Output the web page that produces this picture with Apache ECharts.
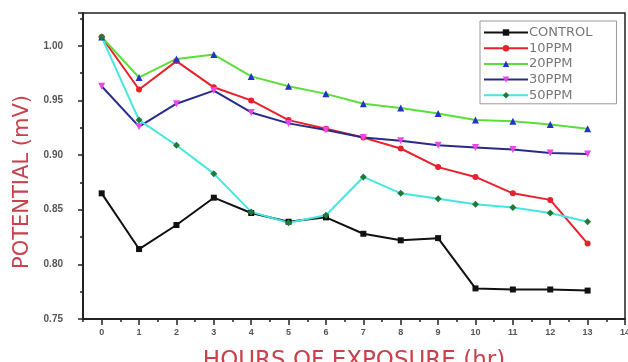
<!DOCTYPE html>
<html>
<head>
<meta charset="utf-8">
<script src="https://cdn.jsdelivr.net/npm/echarts@6/dist/echarts.min.js"></script>
<style>html,body{margin:0;padding:0;background:#fff;}#c{width:628px;height:362px;}</style>
</head>
<body>
<div id="c"></div>
<script>
const hours = [0,1,2,3,4,5,6,7,8,9,10,11,12,13];
const control = [0.865,0.814,0.836,0.861,0.847,0.839,0.843,0.828,0.822,0.824,0.778,0.777,0.777,0.776];
const ppm10 = [1.008,0.960,0.986,0.962,0.950,0.932,0.924,0.916,0.906,0.889,0.880,0.865,0.859,0.819];
const ppm20 = [1.008,0.971,0.988,0.992,0.972,0.963,0.956,0.947,0.943,0.938,0.932,0.931,0.928,0.924];
const ppm30 = [0.963,0.926,0.947,0.959,0.939,0.929,0.923,0.916,0.913,0.909,0.907,0.905,0.902,0.901];
const ppm50 = [1.008,0.932,0.909,0.883,0.848,0.838,0.845,0.880,0.865,0.860,0.855,0.852,0.847,0.839];
const xTickLabels = [0,1,2,3,4,5,6,7,8,9,10,11,12,13,14];
const yTickLabels = [0.75,0.80,0.85,0.90,0.95,1.00];

const pairs = v => hours.map((h,i)=>[h,v[i]]);
const chart = echarts.init(document.getElementById('c'));
const mk = (name, data, lineColor, symbol, symColor, size) => ({
  name, type:'line', data: pairs(data), symbol, symbolSize: size,
  lineStyle:{color:lineColor,width:2}, itemStyle:{color:symColor, borderWidth:0},
  emphasis:{disabled:true}, animation:false
});
chart.setOption({
  animation:false,
  grid:{left:83,top:13,right:3,bottom:43,outerBoundsMode:'none',containLabel:false,show:true,borderColor:'#222',borderWidth:1.5,backgroundColor:'#fff'},
  legend:{
    orient:'vertical', left:480, top:21, itemWidth:44, itemHeight:8, itemGap:0.7,
    borderColor:'#999', borderWidth:1, borderRadius:0, padding:[4,24,1,3], backgroundColor:'#fff',
    textStyle:{color:'#777', fontSize:13, lineHeight:15, fontFamily:'DejaVu Sans', padding:[0,0,0,-4]},
    data:['CONTROL','10PPM','20PPM','30PPM','50PPM']
  },
  xAxis:[{
    type:'value', min:-0.5, max:14, interval:0.5,
    axisLine:{onZero:false,lineStyle:{color:'#222',width:2}},
    axisTick:{length:3,lineStyle:{color:'#222',width:1.5}},
    splitLine:{show:false},
    axisLabel:{color:'#555',fontSize:9,fontWeight:'bold',margin:9,
      formatter:v=> (Number.isInteger(v) && xTickLabels.includes(v)) ? String(v) : ''},
    name:'HOURS OF EXPOSURE (hr)', nameLocation:'middle', nameGap:31,
    nameTextStyle:{color:'#c9414c',fontSize:23,fontFamily:'DejaVu Sans'}
  },{
    type:'value', min:-0.5, max:14, position:'bottom',
    axisLine:{show:false,onZero:false}, axisLabel:{show:false}, splitLine:{show:false},
    axisTick:{show:true,length:6,customValues:xTickLabels,lineStyle:{color:'#222',width:1.5}}
  }],
  yAxis:{
    type:'value', min:0.75, max:1.03, interval:0.05,
    axisLine:{show:true,onZero:false,lineStyle:{color:'#222',width:2}},
    axisTick:{show:true,length:5,lineStyle:{color:'#222',width:1.5}},
    minorTick:{show:true,splitNumber:2,length:3,lineStyle:{color:'#222',width:1.5}},
    splitLine:{show:false},
    axisLabel:{color:'#555',fontSize:10,fontWeight:'bold',margin:20,showMaxLabel:false,
      formatter:v=> yTickLabels.some(t=>Math.abs(t-v)<1e-6) ? v.toFixed(2) : ''},
    name:'POTENTIAL (mV)', nameLocation:'middle', nameGap:50, nameRotate:90,
    nameTextStyle:{color:'#c9414c',fontSize:21,fontFamily:'DejaVu Sans',padding:[0,32,0,0]}
  },
  series:[
    mk('CONTROL', control, '#111', 'rect', '#111', 6),
    mk('10PPM', ppm10, '#e8202c', 'circle', '#e8202c', 6),
    mk('20PPM', ppm20, '#5ade3c', 'triangle', '#2233cc', 7),
    mk('30PPM', ppm30, '#2a2a8c', 'path://M0,0L10,0L5,10Z', '#ee44ee', 7),
    mk('50PPM', ppm50, '#44e6e0', 'diamond', '#1f7a3a', 7)
  ]
});
</script>
</body>
</html>
